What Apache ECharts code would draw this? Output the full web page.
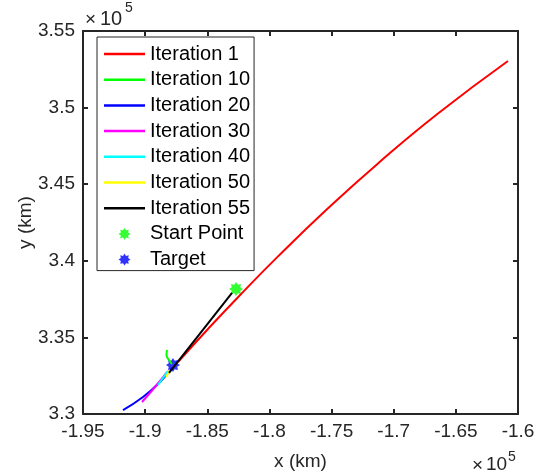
<!DOCTYPE html>
<html>
<head>
<meta charset="utf-8">
<script src="https://cdn.jsdelivr.net/npm/echarts@6/dist/echarts.min.js"></script>
<style>
html, body { margin: 0; padding: 0; background: #fff; }
#chart { width: 542px; height: 476px; }
</style>
</head>
<body>
<div id="chart"></div>
<script>
// trajectories, [x km, y km]
const iter1 = [[-187356, 333394], [-184943, 335548], [-182529, 337624], [-179310, 340287], [-175287, 343427], [-171264, 346358], [-166437, 349615], [-160805, 353045]]
const iter10 = [[-188240, 334180], [-188280, 333850], [-188080, 333520], [-187840, 333260]]
const iter20 = [[-191782, 330261], [-190172, 331110], [-188805, 332089], [-187839, 333003]]
const iter30 = [[-190253, 330783], [-189207, 331762], [-188241, 332742]]
const iter40 = [[-188966, 331893], [-188160, 332810]]
const iter50 = [[-188322, 332415], [-188000, 332872]]
const iter55 = [[-183010, 337900], [-188080, 332680]]
const startPoint = [[-182690, 338160]]
const target = [[-187760, 333200]]

const lineNames = ['Iteration 1', 'Iteration 10', 'Iteration 20', 'Iteration 30', 'Iteration 40', 'Iteration 50', 'Iteration 55']
const lineData = [iter1, iter10, iter20, iter30, iter40, iter50, iter55]
const lineColors = ['#ff0000', '#00ff00', '#0000ff', '#ff00ff', '#00ffff', '#ffff00', '#000000']

const xTicks = { min: -195000, max: -160000, interval: 5000 }
const yTicks = { min: 330000, max: 355000, interval: 5000 }

const axisColor = '#262626'
const font = 'Liberation Sans, Arial, sans-serif'
// 8 point star, roughly like matlab's '*' marker drawn thick
const star = 'path://M50,0L62.6,19.6L85.4,14.6L80.4,37.4L100,50L80.4,62.6L85.4,85.4L62.6,80.4L50,100L37.4,80.4L14.6,85.4L19.6,62.6L0,50L19.6,37.4L14.6,14.6L37.4,19.6Z'
const lineIcon = 'path://M0,0L41,0L41,2.5L0,2.5Z'

const fmt = v => String(parseFloat((v / 1e5).toFixed(2)))

const chart = echarts.init(document.getElementById('chart'))

const baseAxis = (pos, ticks, showLabel) => ({
  type: 'value',
  position: pos,
  min: ticks.min,
  max: ticks.max,
  interval: ticks.interval,
  axisLine: { show: true, onZero: false, lineStyle: { color: axisColor, width: 2 } },
  axisTick: { show: true, inside: true, length: 5, lineStyle: { color: axisColor, width: 2 } },
  axisLabel: { show: showLabel, formatter: fmt, color: axisColor, fontSize: 19, fontFamily: font, margin: 8 },
  splitLine: { show: false }
})

const series = lineNames.map((name, i) => ({
  name: name,
  type: 'line',
  data: lineData[i],
  symbol: 'none',
  smooth: true,
  lineStyle: { color: lineColors[i], width: 2 },
  itemStyle: { color: lineColors[i] }
}))

series.push({
  name: 'Start Point',
  type: 'scatter',
  data: startPoint,
  symbol: star,
  symbolSize: 14,
  itemStyle: { color: '#00ff00' }
})
series.push({
  name: 'Target',
  type: 'scatter',
  data: target,
  symbol: star,
  symbolSize: 14,
  itemStyle: { color: '#0000ff' }
})

const legendData = lineNames.map(n => ({ name: n, icon: lineIcon }))
legendData.push({ name: 'Start Point' }, { name: 'Target' })

const option = {
  animation: false,
  backgroundColor: '#fff',
  grid: { left: 83, right: 24, top: 31, bottom: 62 },
  xAxis: [
    Object.assign(baseAxis('bottom', xTicks, true), {
      name: 'x (km)', nameLocation: 'middle', nameGap: 38, nameMoveOverlap: false,
      nameTextStyle: { color: axisColor, fontSize: 19, fontFamily: font }
    }),
    baseAxis('top', xTicks, false)
  ],
  yAxis: [
    Object.assign(baseAxis('left', yTicks, true), {
      name: 'y (km)', nameLocation: 'middle', nameGap: 48, nameMoveOverlap: false,
      nameTextStyle: { color: axisColor, fontSize: 19, fontFamily: font }
    }),
    baseAxis('right', yTicks, false)
  ],
  legend: {
    orient: 'vertical',
    left: 97,
    top: 37,
    padding: [7, 4, 1, 7],
    itemWidth: 41,
    itemHeight: 12,
    itemGap: 5.7,
    backgroundColor: '#fff',
    borderColor: axisColor,
    borderWidth: 1,
    borderRadius: 0,
    textStyle: { color: '#000', fontSize: 20, fontFamily: font, lineHeight: 20 },
    data: legendData
  },
  graphic: [
    { type: 'text', left: 85, top: 10, style: { text: '×', fontSize: 19, fontFamily: font, fill: axisColor } },
    { type: 'text', left: 100, top: 9, style: { text: '10', fontSize: 20, fontFamily: font, fill: axisColor } },
    { type: 'text', left: 125, top: 1, style: { text: '5', fontSize: 14, fontFamily: font, fill: axisColor } },
    { type: 'text', left: 472, top: 456, style: { text: '×', fontSize: 19, fontFamily: font, fill: axisColor } },
    { type: 'text', left: 486, top: 455, style: { text: '10', fontSize: 19, fontFamily: font, fill: axisColor } },
    { type: 'text', left: 508, top: 450, style: { text: '5', fontSize: 14, fontFamily: font, fill: axisColor } }
  ],
  series: series
}

chart.setOption(option)
</script>
</body>
</html>
